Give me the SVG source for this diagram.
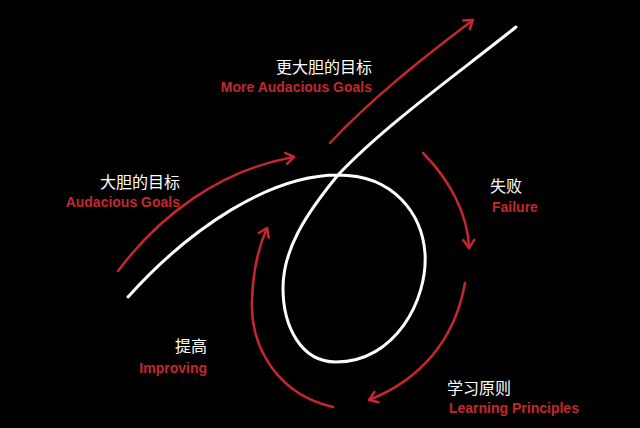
<svg xmlns="http://www.w3.org/2000/svg" width="640" height="428" viewBox="0 0 640 428">
<defs>
<style>
.cn{font-family:"Noto Sans CJK SC","Noto Sans",sans-serif;font-size:16px;fill:#ffffff}
.en{font-family:"Liberation Sans",Arial,sans-serif;font-size:14px;font-weight:bold;fill:#c4282e}
.arr{fill:none;stroke:#c4282e;stroke-width:2.5;stroke-linecap:round;marker-end:url(#ah)}
.main{fill:none;stroke:#ffffff;stroke-width:3;stroke-linecap:round}
</style>
<marker id="ah" markerUnits="userSpaceOnUse" markerWidth="20" markerHeight="20" viewBox="-10 -10 20 20" refX="0" refY="0" orient="auto">
<path d="M-8,-5.5 L0,0 L-8,5.5" fill="none" stroke="#c4282e" stroke-width="2.5" stroke-linecap="round" stroke-linejoin="round"/>
</marker>
</defs>
<rect width="640" height="428" fill="#000000"/>
<g id="loop">
<path class="main" d="M128,297 C190,228 270,175 338,175 C395,175 422,215 425,253 C428,300 395,362 336,362 C300,362 283,325 283,288 C283,250 305,215 338,175 C385,125 460,72 516,27"/>
</g>
<g id="connectors">
<path class="arr" d="M118,271 C160,215 220,170 294,157"/>
<path class="arr" d="M330,143 C370,100 420,60 473,20"/>
<path class="arr" d="M423,153 C450,180 468,215 469,248"/>
<path class="arr" d="M465,283 C455,340 420,380 369,400"/>
<path class="arr" d="M333,407 C280,395 250,350 252,300 C253,270 258,248 267,228"/>
</g>
<g id="more-goals">
<text class="cn" x="372" y="73" text-anchor="end">更大胆的目标</text>
<text class="en" x="372" y="92" text-anchor="end">More Audacious Goals</text>
</g>
<g id="goals">
<text class="cn" x="180" y="188" text-anchor="end">大胆的目标</text>
<text class="en" x="180" y="207" text-anchor="end">Audacious Goals</text>
</g>
<g id="failure">
<text class="cn" x="490" y="192">失败</text>
<text class="en" x="492" y="212">Failure</text>
</g>
<g id="improving">
<text class="cn" x="207" y="352" text-anchor="end">提高</text>
<text class="en" x="207" y="373" text-anchor="end">Improving</text>
</g>
<g id="learning">
<text class="cn" x="447" y="394">学习原则</text>
<text class="en" x="449" y="413">Learning Principles</text>
</g>
</svg>
